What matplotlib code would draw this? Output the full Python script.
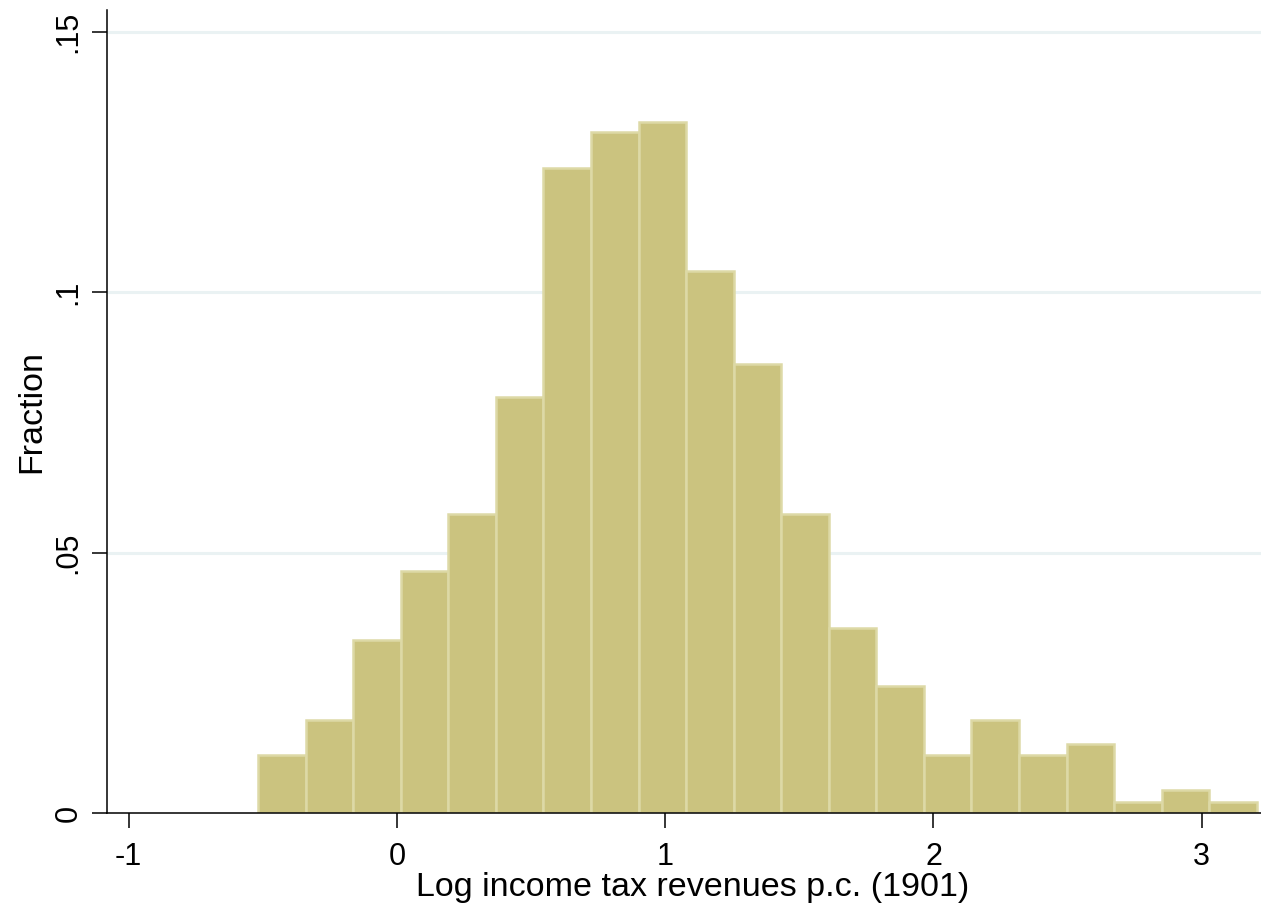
import numpy as np
import matplotlib
matplotlib.use("Agg")
import matplotlib.pyplot as plt

plt.rcParams['font.family'] = ['Liberation Sans', 'DejaVu Sans']

# Data
bin_start = -0.518
bin_width = 0.1773
fractions = [0.0111, 0.0179, 0.0333, 0.0465, 0.0575, 0.0798, 0.1238, 0.1308,
             0.1327, 0.1040, 0.0863, 0.0575, 0.0356, 0.0244, 0.0111, 0.0179,
             0.0111, 0.0133, 0.0022, 0.0044, 0.0022]
x_ticks = [-1, 0, 1, 2, 3]
x_ticklabels = ['-1', '0', '1', '2', '3']
y_ticks = [0, 0.05, 0.1, 0.15]
y_ticklabels = ['0', '.05', '.1', '.15']
x_label = 'Log income tax revenues p.c. (1901)'
y_label = 'Fraction'

fig = plt.figure(figsize=(12.61, 9.10), dpi=100)
ax = fig.add_axes([107/1261, (910-813)/910, 1 - 107/1261, (813-10)/910])

lefts = bin_start + bin_width * np.arange(len(fractions))
ax.bar(lefts, fractions, width=bin_width, align='edge',
       color='#cbc37f', edgecolor='#ddd9a6', linewidth=1.8, zorder=2)

ax.set_xlim(-1.081, 3.221)
ax.set_ylim(0, 0.1542)

for y in y_ticks[1:]:
    ax.axhline(y, color='#eaf2f3', linewidth=2.2, zorder=1)

ax.set_xticks(x_ticks)
ax.set_xticklabels(x_ticklabels, fontsize=22)
ax.set_yticks(y_ticks)
ax.set_yticklabels(y_ticklabels, fontsize=22, rotation=90, va='center')

ax.tick_params(axis='both', direction='out', length=10.8, width=1.1, color='black')
ax.tick_params(axis='x', pad=10)
ax.tick_params(axis='y', pad=6)

for s in ['top', 'right']:
    ax.spines[s].set_visible(False)
for s in ['left', 'bottom']:
    ax.spines[s].set_linewidth(1.1)
    ax.spines[s].set_zorder(3)

ax.set_xlabel(x_label, fontsize=24.5, labelpad=0)
ax.xaxis.label.set_x(0.5074)
ax.set_ylabel(y_label, fontsize=24.5, labelpad=4.3)

fig.savefig('out.png', dpi=100)
